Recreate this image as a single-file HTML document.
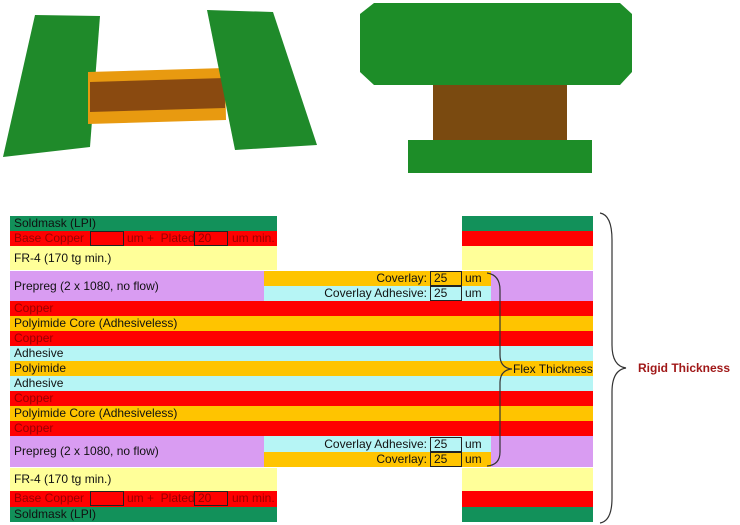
<!DOCTYPE html>
<html><head><style>
body{margin:0;width:740px;height:525px;background:#fff;position:relative;overflow:hidden;font-family:"Liberation Sans",Arial,sans-serif;font-size:12px;color:#111}
.r{position:absolute;box-sizing:border-box;line-height:15px;padding-left:4px;white-space:nowrap}
.g{background:#12915a}.c{background:#f00;color:#900}.y{background:#ffff99}.p{background:#d99cf2}.o{background:#ffc400}.b{background:#b6f5f5}
.bx{position:absolute;border:1px solid #222;box-sizing:border-box;height:15px}
.t{position:absolute;line-height:15px;white-space:nowrap}
.cr{color:#900}
</style></head><body>
<svg width="740" height="190" style="position:absolute;left:0;top:0">
<polygon points="35,15 100,16 90,147 3,157" fill="#1f8a2a"/>
<polygon points="88,72 225,68 226,120 88,124" fill="#e89a10"/>
<polygon points="90,82 225,78 225,108 90,112" fill="#8a4a10"/>
<polygon points="207,10 273,12 317,145 235,150" fill="#1f8a2a"/>
<polygon points="374,3 620,3 632,14 632,72 620,85 374,85 360,72 360,14" fill="#1d8d28"/>
<rect x="433" y="85" width="134" height="55" fill="#7a4a10"/>
<rect x="408" y="140" width="184" height="33" fill="#1d8d28"/>
</svg>
<div class="r g" style="left:10px;top:216px;width:267px;height:15px">Soldmask (LPI)</div>
<div class="r c" style="left:10px;top:231px;width:267px;height:15px">Base Copper</div>
<div class="bx" style="left:90px;top:231px;width:34px"></div><div class="bx" style="left:194px;top:231px;width:34px"></div>
<div class="t cr" style="left:127px;top:231px">um +&nbsp; Plated</div><div class="t cr" style="left:198px;top:231px">20</div><div class="t cr" style="left:232px;top:231px">um min.</div>
<div class="r y" style="left:10px;top:246px;width:267px;height:24px;line-height:24px">FR-4 (170 tg min.)</div>
<div class="r g" style="left:462px;top:216px;width:131px;height:15px"></div>
<div class="r c" style="left:462px;top:231px;width:131px;height:15px"></div>
<div class="r y" style="left:462px;top:246px;width:131px;height:24px"></div>
<div class="r p" style="left:10px;top:271px;width:583px;height:30px;line-height:30px">Prepreg (2 x 1080, no flow)</div>
<div class="r o" style="left:264px;top:271px;width:227px;height:15px"></div>
<div class="r b" style="left:264px;top:286px;width:227px;height:15px"></div>
<div class="t" style="left:264px;top:271px;width:163px;text-align:right">Coverlay:</div>
<div class="t" style="left:264px;top:286px;width:163px;text-align:right">Coverlay Adhesive:</div>
<div class="bx" style="left:430px;top:271px;width:32px"></div><div class="bx" style="left:430px;top:286px;width:32px"></div>
<div class="t" style="left:434px;top:271px">25</div><div class="t" style="left:434px;top:286px">25</div>
<div class="t" style="left:465px;top:271px">um</div><div class="t" style="left:465px;top:286px">um</div>
<div class="r c" style="left:10px;top:301px;width:583px;height:15px">Copper</div>
<div class="r o" style="left:10px;top:316px;width:583px;height:15px">Polyimide Core (Adhesiveless)</div>
<div class="r c" style="left:10px;top:331px;width:583px;height:15px">Copper</div>
<div class="r b" style="left:10px;top:346px;width:583px;height:15px">Adhesive</div>
<div class="r o" style="left:10px;top:361px;width:583px;height:15px">Polyimide</div>
<div class="r b" style="left:10px;top:376px;width:583px;height:15px">Adhesive</div>
<div class="r c" style="left:10px;top:391px;width:583px;height:15px">Copper</div>
<div class="r o" style="left:10px;top:406px;width:583px;height:15px">Polyimide Core (Adhesiveless)</div>
<div class="r c" style="left:10px;top:421px;width:583px;height:15px">Copper</div>
<div class="r p" style="left:10px;top:436px;width:583px;height:31px;line-height:31px">Prepreg (2 x 1080, no flow)</div>
<div class="r b" style="left:264px;top:436px;width:227px;height:16px"></div>
<div class="r o" style="left:264px;top:452px;width:227px;height:15px"></div>
<div class="t" style="left:264px;top:437px;width:163px;text-align:right">Coverlay Adhesive:</div>
<div class="t" style="left:264px;top:452px;width:163px;text-align:right">Coverlay:</div>
<div class="bx" style="left:430px;top:437px;width:32px"></div><div class="bx" style="left:430px;top:452px;width:32px"></div>
<div class="t" style="left:434px;top:437px">25</div><div class="t" style="left:434px;top:452px">25</div>
<div class="t" style="left:465px;top:437px">um</div><div class="t" style="left:465px;top:452px">um</div>
<div class="r y" style="left:10px;top:468px;width:267px;height:23px;line-height:23px">FR-4 (170 tg min.)</div>
<div class="r c" style="left:10px;top:491px;width:267px;height:16px">Base Copper</div>
<div class="bx" style="left:90px;top:491px;width:34px"></div><div class="bx" style="left:194px;top:491px;width:34px"></div>
<div class="t cr" style="left:127px;top:491px">um +&nbsp; Plated</div><div class="t cr" style="left:198px;top:491px">20</div><div class="t cr" style="left:232px;top:491px">um min.</div>
<div class="r g" style="left:10px;top:507px;width:267px;height:15px">Soldmask (LPI)</div>
<div class="r y" style="left:462px;top:468px;width:131px;height:23px"></div>
<div class="r c" style="left:462px;top:491px;width:131px;height:16px"></div>
<div class="r g" style="left:462px;top:507px;width:131px;height:15px"></div>
<div class="t" style="left:513px;top:362px">Flex Thickness</div>
<svg width="740" height="525" style="position:absolute;left:0;top:0">
<path d="M487,273 Q500,275 500,290 L500,355 Q500,368 512,369 Q500,370 500,383 L500,452 Q500,465 487,466" fill="none" stroke="#333" stroke-width="1.2"/>
<path d="M600,213 Q612,215 612,240 L612,345 Q612,366 626,368 Q612,370 612,392 L612,498 Q612,521 600,523" fill="none" stroke="#333" stroke-width="1.2"/>
</svg>
<div class="t" style="left:638px;top:361px;color:#a01818;font-weight:bold">Rigid Thickness</div>
</body></html>
